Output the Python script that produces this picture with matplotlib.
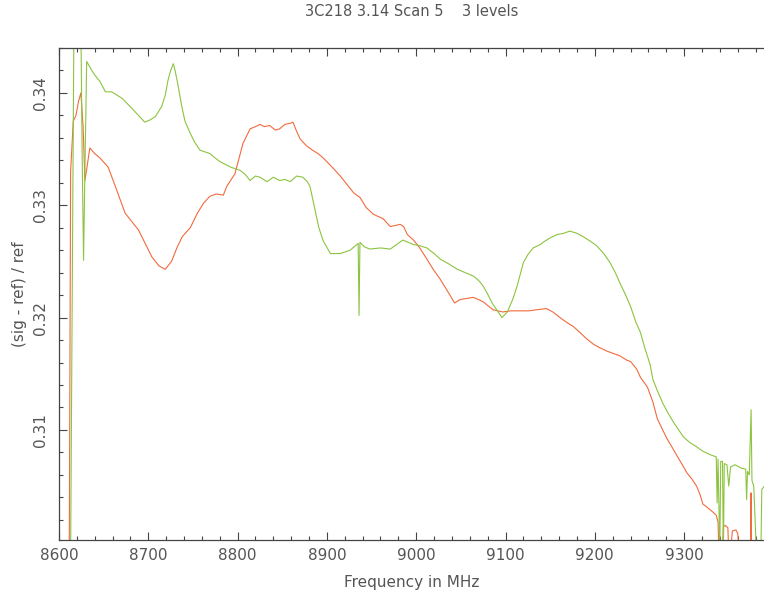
import numpy as np
import matplotlib
matplotlib.use("Agg")
import matplotlib.pyplot as plt
from matplotlib.ticker import MultipleLocator

# Spectrum: frequency (MHz) and (sig - ref) / ref
red_freq = [8610, 8611.5, 8613, 8616, 8619, 8622, 8624.5, 8627, 8629, 8631,
            8634.5, 8640, 8646, 8655, 8663, 8674, 8689, 8704, 8712, 8719,
            8726, 8732, 8738, 8747, 8755, 8762, 8769, 8776, 8784, 8788,
            8797, 8806, 8814, 8820, 8825, 8830, 8836, 8842, 8847, 8853,
            8859, 8862, 8866, 8870, 8877, 8884, 8890, 8896, 8907, 8915,
            8922, 8930, 8937, 8944, 8952, 8963, 8971, 8982, 8986, 8990,
            8997, 9004, 9012, 9019, 9027, 9034, 9043, 9049, 9056, 9064,
            9070, 9075, 9086, 9097, 9106, 9116, 9126, 9135, 9146, 9153,
            9161, 9168, 9176, 9183, 9191, 9199, 9206, 9214, 9221, 9228,
            9236, 9240, 9247, 9251, 9259, 9265, 9270, 9276, 9281, 9287,
            9292, 9298, 9303, 9309, 9314, 9318, 9321, 9326, 9332, 9336,
            9338, 9339, 9343, 9344, 9346, 9349, 9350, 9352, 9354, 9358,
            9360, 9362, 9374.5, 9375, 9375.5, 9390]
red_val = [0.295, 0.299, 0.333, 0.3375, 0.3380, 0.3393, 0.3400, 0.3370, 0.3322, 0.3332,
           0.3351, 0.3346, 0.3342, 0.3334, 0.3317, 0.3293, 0.3278, 0.3254, 0.3246, 0.3243,
           0.3250, 0.3262, 0.3272, 0.3280, 0.3293, 0.3302, 0.3308, 0.3310, 0.3309, 0.3317,
           0.3328, 0.3355, 0.3368, 0.3370, 0.3372, 0.3370, 0.3371, 0.3367, 0.3368, 0.3372,
           0.3373, 0.3374, 0.3366, 0.3359, 0.3353, 0.3349, 0.3346, 0.3342, 0.3333, 0.3326,
           0.3319, 0.3311, 0.3307, 0.3298, 0.3292, 0.3288, 0.3281, 0.3283, 0.3281, 0.3274,
           0.3269, 0.3262, 0.3252, 0.3243, 0.3234, 0.3225, 0.3213, 0.3216, 0.3217, 0.3218,
           0.3216, 0.3214, 0.3207, 0.3205, 0.3206, 0.3206, 0.3206, 0.3207, 0.3208, 0.3205,
           0.3200, 0.3196, 0.3192, 0.3187, 0.3181, 0.3176, 0.3173, 0.3170, 0.3168, 0.3166,
           0.3162, 0.3161, 0.3154, 0.3147, 0.3138, 0.3125, 0.3110, 0.3100, 0.3092, 0.3084,
           0.3077, 0.3069, 0.3062, 0.3056, 0.3050, 0.3042, 0.3034, 0.3031, 0.3027, 0.3024,
           0.3018, 0.2990, 0.2990, 0.3014, 0.3015, 0.3013, 0.2990, 0.2990, 0.3010, 0.3011,
           0.3008, 0.2990, 0.2990, 0.3044, 0.2990, 0.2990]

green_freq = [8610, 8613, 8617, 8624, 8626, 8627.5, 8629, 8631, 8636, 8640,
              8646, 8652, 8659, 8665, 8671, 8677, 8682, 8689, 8696, 8702,
              8708, 8715, 8719, 8722, 8725, 8728, 8730, 8733, 8737, 8741,
              8747, 8752, 8758, 8769, 8775, 8780, 8792, 8803, 8809, 8814,
              8820, 8825, 8833, 8840, 8847, 8853, 8859, 8866, 8873, 8878,
              8881, 8887, 8891, 8896, 8904, 8915, 8926, 8935, 8936, 8937,
              8942, 8948, 8960, 8971, 8978, 8985, 8991, 8997, 9004, 9012,
              9020, 9027, 9036, 9046, 9055, 9064, 9070, 9075, 9080, 9085,
              9091, 9096, 9102, 9108, 9113, 9120, 9125, 9131, 9139, 9142,
              9150, 9158, 9165, 9172, 9180, 9187, 9195, 9202, 9210, 9217,
              9223, 9228, 9234, 9240, 9246, 9251, 9256, 9262, 9265, 9270,
              9276, 9282, 9288, 9294, 9299, 9306, 9314, 9321, 9329, 9336,
              9337, 9338, 9340, 9341, 9343, 9344, 9345, 9348, 9350, 9352,
              9357, 9364, 9369, 9370, 9371, 9373, 9375, 9376, 9378, 9381,
              9386, 9387, 9390]
green_val = [0.295, 0.299, 0.350, 0.350, 0.334, 0.3251, 0.333, 0.3428, 0.3421, 0.3416,
             0.3410, 0.3401, 0.3401, 0.3398, 0.3395, 0.3390, 0.3386, 0.3380, 0.3374, 0.3376,
             0.3379, 0.3388, 0.3398, 0.3411, 0.3420, 0.3426, 0.3420, 0.3408, 0.3390, 0.3375,
             0.3364, 0.3356, 0.3349, 0.3346, 0.3342, 0.3339, 0.3334, 0.3331, 0.3327, 0.3322,
             0.3326, 0.3325, 0.3321, 0.3325, 0.3322, 0.3323, 0.3321, 0.3326, 0.3325, 0.3321,
             0.3317, 0.3295, 0.3280, 0.3268, 0.3257, 0.3257, 0.3260, 0.3266, 0.3202, 0.3267,
             0.3263, 0.3261, 0.3262, 0.3261, 0.3265, 0.3269, 0.3267, 0.3265, 0.3264, 0.3262,
             0.3257, 0.3252, 0.3248, 0.3243, 0.3240, 0.3237, 0.3233, 0.3228, 0.3221, 0.3213,
             0.3206, 0.3200, 0.3205, 0.3216, 0.3228, 0.3249, 0.3256, 0.3262, 0.3265, 0.3267,
             0.3271, 0.3274, 0.3275, 0.3277, 0.3275, 0.3272, 0.3268, 0.3264, 0.3257, 0.3249,
             0.3240, 0.3231, 0.3221, 0.3210, 0.3196, 0.3187, 0.3173, 0.3158, 0.3145, 0.3135,
             0.3124, 0.3115, 0.3107, 0.3100, 0.3094, 0.3089, 0.3085, 0.3081, 0.3078, 0.3076,
             0.3035, 0.3074, 0.2990, 0.3072, 0.3072, 0.2990, 0.3070, 0.3069, 0.3050, 0.3067,
             0.3069, 0.3066, 0.3065, 0.3038, 0.3063, 0.3060, 0.3118, 0.3055, 0.3050, 0.2990,
             0.2990, 0.3047, 0.3050]

title = "3C218 3.14 Scan 5    3 levels"
xlabel = "Frequency in MHz"
ylabel = "(sig - ref) / ref"

text_col = "#555555"
axis_col = "#444444"

fig = plt.figure(figsize=(7.64, 5.97), dpi=100)
W, H = 764, 597
# axes box in pixels: left 59, top 48, bottom 540; right edge runs past the figure
ax = fig.add_axes([59 / W, (H - 540) / H, 716 / W, (540 - 48) / H])

ax.plot(red_freq, red_val, color="#f26a3d", lw=0.8)
ax.plot(green_freq, green_val, color="#8cc43f", lw=0.8)

ax.set_xlim(8600, 8600 + 716 / 0.893)
ax.set_ylim(0.3002, 0.3440)

ax.xaxis.set_major_locator(MultipleLocator(100))
ax.xaxis.set_minor_locator(MultipleLocator(20))
# the 9400 label falls off the page in the original, so leave it blank
ax.xaxis.set_major_formatter(plt.FuncFormatter(lambda v, p: f"{v:.0f}" if v < 9350 else ""))
ax.yaxis.set_major_locator(MultipleLocator(0.01))
ax.yaxis.set_minor_locator(MultipleLocator(0.002))
ax.yaxis.set_major_formatter(plt.FuncFormatter(lambda v, p: f"{v:.2f}"))

ax.tick_params(which="both", direction="in", top=True, right=True,
               color=axis_col, width=0.8, labelcolor=text_col, labelsize=11)
ax.tick_params(which="major", length=6)
ax.tick_params(which="minor", length=3)
ax.tick_params(axis="x", pad=6)
ax.tick_params(axis="y", pad=8)
for lab in ax.get_yticklabels():
    lab.set_rotation(90)
    lab.set_va("center")

for s in ax.spines.values():
    s.set_color(axis_col)
    s.set_linewidth(0.9)

fig.text(412 / W, 1 - 12 / H, title, ha="center", va="center",
         color=text_col, fontsize=10.5)
fig.text(412 / W, 1 - 583 / H, xlabel, ha="center", va="center",
         color=text_col, fontsize=11)
fig.text(20 / W, 1 - 294 / H, ylabel, ha="center", va="center",
         rotation=90, color=text_col, fontsize=11)

fig.savefig("out.png", dpi=100, facecolor="white")
